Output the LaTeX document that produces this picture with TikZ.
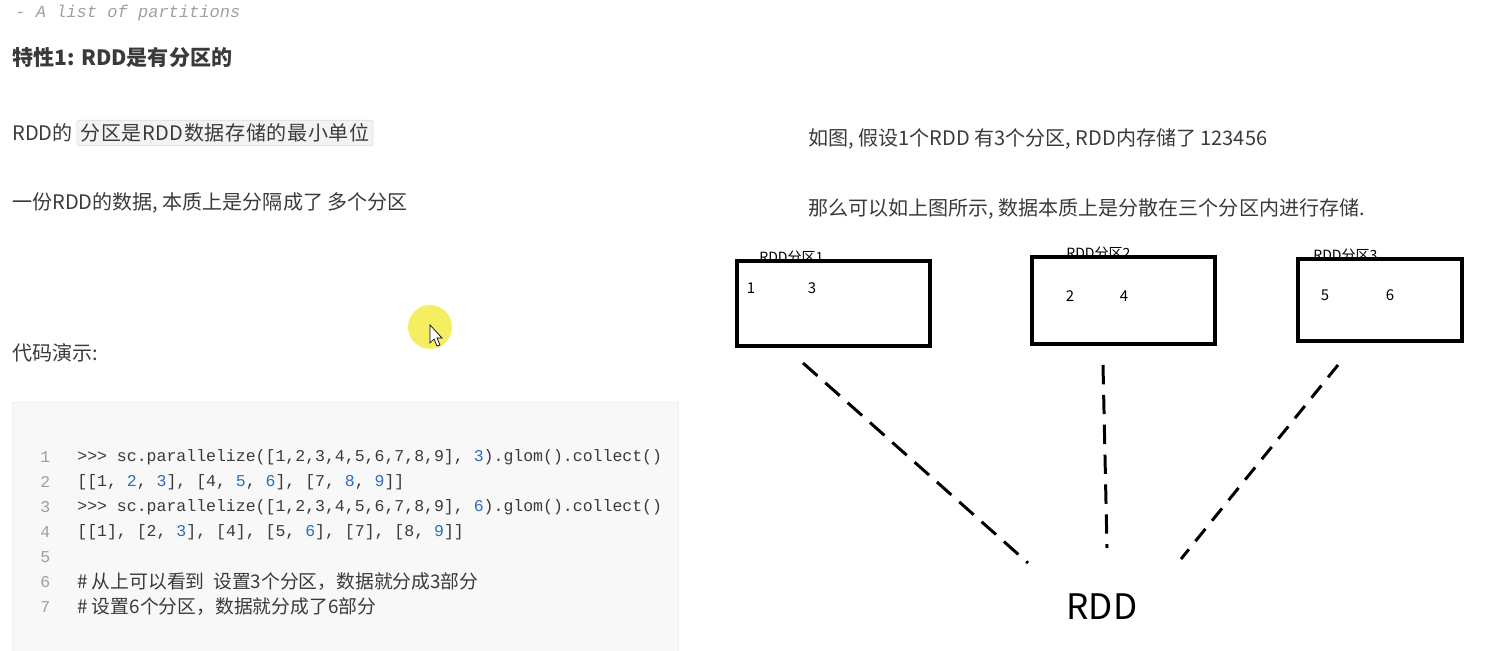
\documentclass[tikz,border=0pt]{standalone}
\usepackage{fontspec}
\setmainfont{Noto Sans CJK SC}
\newfontfamily\codefont{Liberation Mono}
\usetikzlibrary{positioning}
\definecolor{txt}{HTML}{3A3A3A}
\definecolor{codebg}{HTML}{F8F8F8}
\definecolor{codeline}{HTML}{EFEFEF}
\definecolor{codeblue}{HTML}{2F6EBA}
\definecolor{lineno}{HTML}{A0A0A0}
\definecolor{hlbg}{HTML}{F3F3F3}
\definecolor{hlline}{HTML}{DDDDDD}
\definecolor{cursorhl}{HTML}{F6EE62}
\newcommand{\cnum}[1]{\textcolor{codeblue}{#1}}
\tikzstyle{body} = [anchor=west, inner sep=0pt, text=txt, font=\fontsize{11.4}{13}\selectfont]
\tikzstyle{heading} = [anchor=west, inner sep=0pt, text=txt, font=\fontsize{12}{14}\selectfont\bfseries]
\tikzstyle{code} = [anchor=west, inner sep=0pt, text=txt, font=\codefont\fontsize{9.4}{11}\selectfont]
\tikzstyle{comment} = [anchor=west, inner sep=0pt, text=txt, font=\fontsize{10.7}{12}\selectfont]
\tikzstyle{lnum} = [anchor=west, inner sep=0pt, text=lineno, font=\codefont\fontsize{9.4}{11}\selectfont]
\tikzstyle{part} = [rectangle, draw=black, line width=1.8pt, inner sep=0pt]
\tikzstyle{ptitle} = [anchor=west, inner sep=0pt, font=\fontsize{8}{9}\selectfont]
\tikzstyle{pval} = [inner sep=0pt, font=\fontsize{8.5}{10}\selectfont]
\tikzstyle{link} = [line width=1.7pt, dash pattern=on 11pt off 6pt]
\begin{document}
\begin{tikzpicture}[x=0.02cm, y=-0.02cm]
		\useasboundingbox (0,0) rectangle (1512,651);
		% left column
		\node (sub) [anchor=west, inner sep=0pt, text=lineno, font=\codefont\itshape\fontsize{9.7}{11}\selectfont] at (15,13) {- A list of partitions};
		\node (feat) [heading] at (12,58) {特性1: RDD是有分区的};
		\node (unit) [body] at (12,133) {RDD的};
		\node (unithl) [body, right=2pt of unit, inner sep=2pt, fill=hlbg, draw=hlline, rounded corners=1pt, font=\fontsize{11.4}{13}\selectfont\addfontfeature{LetterSpace=3}] {分区是RDD数据存储的最小单位};
		\node (split) [body] at (12,203) {一份RDD的数据, 本质上是分隔成了 多个分区};
		\node (demo) [body] at (12,353) {代码演示:};
		\fill [cursorhl] (430,327) circle [radius=0.44cm];
		\draw [fill=white, line width=0.4pt] (430,325) -- (430,343) -- (434,339) -- (437,346) -- (440,345) -- (437,338) -- (442,338) -- cycle;
		% code block
		\draw [fill=codebg, draw=codeline] (12,402) rectangle (678,660);
		\foreach \i in {1,...,7}
			\node (ln\i) [lnum] at (40,{457+25*(\i-1)}) {\i};
		\node (c1) [code] at (77,457) {>>> sc.parallelize([1,2,3,4,5,6,7,8,9], \cnum{3}).glom().collect()};
		\node (c2) [code] at (77,482) {[[1, \cnum{2}, \cnum{3}], [4, \cnum{5}, \cnum{6}], [7, \cnum{8}, \cnum{9}]]};
		\node (c3) [code] at (77,507) {>>> sc.parallelize([1,2,3,4,5,6,7,8,9], \cnum{6}).glom().collect()};
		\node (c4) [code] at (77,532) {[[1], [2, \cnum{3}], [4], [5, \cnum{6}], [7], [8, \cnum{9}]]};
		\node (c6) [comment] at (77,582) {\# 从上可以看到\ \ 设置3个分区，数据就分成3部分};
		\node (c7) [comment] at (77,607) {\# 设置6个分区，数据就分成了6部分};
		% right column
		\node (intro) [body] at (808,139) {如图, 假设1个RDD 有3个分区, RDD内存储了 123456};
		\node (spread) [body] at (808,209) {那么可以如上图所示, 数据本质上是分散在三个分区内进行存储.};
		\node (p1) [part, minimum width=3.86cm, minimum height=1.7cm] at (833.5,303.5) {};
		\node (p2) [part, minimum width=3.66cm, minimum height=1.74cm] at (1123.5,300.5) {};
		\node (p3) [part, minimum width=3.28cm, minimum height=1.64cm] at (1380,300) {};
		\node (t1) [ptitle] at (759,257) {RDD分区1};
		\node (t2) [ptitle] at (1066,253) {RDD分区2};
		\node (t3) [ptitle] at (1313,255) {RDD分区3};
		\node (v1) [pval] at (751,288) {1};
		\node (v3) [pval] at (812,288) {3};
		\node (v2) [pval] at (1070,296) {2};
		\node (v4) [pval] at (1124,296) {4};
		\node (v5) [pval] at (1325,295) {5};
		\node (v6) [pval] at (1390,295) {6};
		\node (rdd) [inner sep=0pt, font=\fontsize{20}{24}\selectfont] at (1102,607) {RDD};
		\coordinate (a1) at (803,363);
		\coordinate (b1) at (1028,563);
		\coordinate (a2) at (1103,365);
		\coordinate (b2) at (1107,548);
		\coordinate (a3) at (1338,365);
		\coordinate (b3) at (1181,559);
		\draw [link] (a1) -- (b1);
		\draw [link] (a2) -- (b2);
		\draw [link, dash pattern=on 9pt off 6pt] (a3) -- (b3);
\end{tikzpicture}
\end{document}
